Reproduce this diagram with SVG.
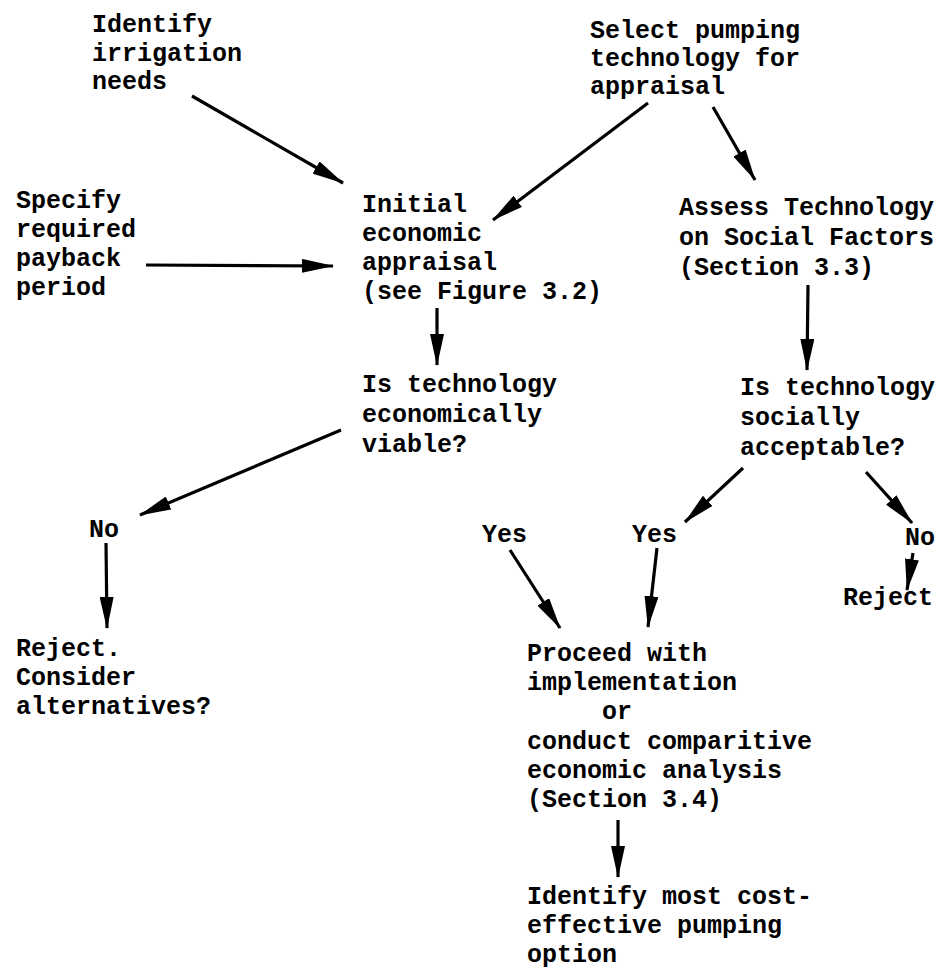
<svg xmlns="http://www.w3.org/2000/svg" width="944" height="970" viewBox="0 0 944 970">
<style>
.t { font-family: "Liberation Mono", "DejaVu Sans Mono", monospace; font-size: 25px; font-weight: bold; fill: #000; }
.c line { stroke: #000; stroke-width: 3.2; marker-end: url(#ah); }
</style>
<defs>
<marker id="ah" markerUnits="userSpaceOnUse" markerWidth="32" markerHeight="14" refX="31" refY="7" orient="auto" viewBox="0 0 32 14">
<path d="M0,0 L32,7 L0,14 z" fill="#000"/>
</marker>
</defs>
<rect width="944" height="970" fill="#fff"/>
<g id="n-identify-irrigation"><text class="t" x="92" y="32"><tspan x="92">Identify</tspan><tspan x="92" dy="29">irrigation</tspan><tspan x="92" dy="28">needs</tspan></text></g>
<g id="n-select-pumping"><text class="t" x="590" y="38"><tspan x="590">Select pumping</tspan><tspan x="590" dy="28">technology for</tspan><tspan x="590" dy="28">appraisal</tspan></text></g>
<g id="n-specify-payback"><text class="t" x="16" y="208"><tspan x="16">Specify</tspan><tspan x="16" dy="29">required</tspan><tspan x="16" dy="29">payback</tspan><tspan x="16" dy="29">period</tspan></text></g>
<g id="n-initial-appraisal"><text class="t" x="362" y="212"><tspan x="362">Initial</tspan><tspan x="362" dy="29">economic</tspan><tspan x="362" dy="29">appraisal</tspan><tspan x="362" dy="29">(see Figure 3.2)</tspan></text></g>
<g id="n-assess-social"><text class="t" x="679" y="215"><tspan x="679">Assess Technology</tspan><tspan x="679" dy="30">on Social Factors</tspan><tspan x="679" dy="30">(Section 3.3)</tspan></text></g>
<g id="n-econ-viable"><text class="t" x="362" y="392"><tspan x="362">Is technology</tspan><tspan x="362" dy="30">economically</tspan><tspan x="362" dy="30">viable?</tspan></text></g>
<g id="n-social-acceptable"><text class="t" x="740" y="395"><tspan x="740">Is technology</tspan><tspan x="740" dy="30">socially</tspan><tspan x="740" dy="30">acceptable?</tspan></text></g>
<g id="n-no-left"><text class="t" x="89" y="537">No</text></g>
<g id="n-yes-left"><text class="t" x="482" y="542">Yes</text></g>
<g id="n-yes-mid"><text class="t" x="632" y="542">Yes</text></g>
<g id="n-no-right"><text class="t" x="905" y="545">No</text></g>
<g id="n-reject-right"><text class="t" x="843" y="605">Reject</text></g>
<g id="n-reject-left"><text class="t" x="16" y="656"><tspan x="16">Reject.</tspan><tspan x="16" dy="29">Consider</tspan><tspan x="16" dy="29">alternatives?</tspan></text></g>
<g id="n-proceed"><text class="t" x="527" y="661"><tspan x="527">Proceed with</tspan><tspan x="527" dy="29">implementation</tspan><tspan x="602" dy="29">or</tspan><tspan x="527" dy="30">conduct comparitive</tspan><tspan x="527" dy="29">economic analysis</tspan><tspan x="527" dy="29">(Section 3.4)</tspan></text></g>
<g id="n-cost-effective"><text class="t" x="527" y="904"><tspan x="527">Identify most cost-</tspan><tspan x="527" dy="29">effective pumping</tspan><tspan x="527" dy="29">option</tspan></text></g>
<g id="connectors" class="c">
<line x1="192" y1="96" x2="343" y2="183"/>
<line x1="146" y1="265" x2="333" y2="266"/>
<line x1="648" y1="103" x2="493" y2="220"/>
<line x1="713" y1="107" x2="755" y2="180"/>
<line x1="437" y1="308" x2="437" y2="365"/>
<line x1="808" y1="285" x2="807" y2="370"/>
<line x1="341" y1="430" x2="140" y2="515"/>
<line x1="106" y1="543" x2="107" y2="628"/>
<line x1="743" y1="468" x2="685" y2="522"/>
<line x1="866" y1="472" x2="912" y2="523"/>
<line x1="913" y1="553" x2="907" y2="590"/>
<line x1="510" y1="550" x2="560" y2="628"/>
<line x1="657" y1="548" x2="648" y2="627"/>
<line x1="618" y1="820" x2="618" y2="877"/>
</g>
</svg>
